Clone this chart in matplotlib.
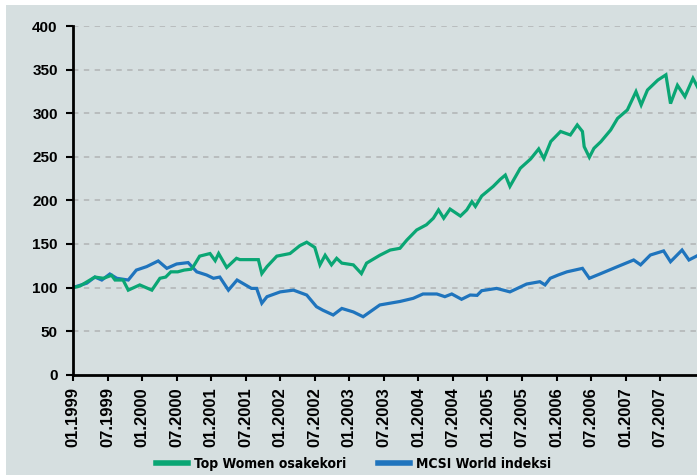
#!/usr/bin/env python3
"""Top Women osakekori vs MCSI World indeksi, 01.1999 - 12.2007."""

import matplotlib

matplotlib.use("Agg")
import matplotlib.pyplot as plt
from matplotlib.patches import Rectangle


# x = months since 01.1999
women_months = [
    0, 1.2, 3.8, 5.3, 6.7, 7.3, 8.7, 9.6, 11.6, 13.7, 15.1, 16.1,
    17, 18.2, 19.3, 20.5, 20.9, 22, 23.8, 24.7, 25.3, 26.7, 28.4, 29, 31, 32.2,
    32.8, 33.7, 35.4, 37.7, 39.4, 40.6, 42, 42.9, 43.8, 44.9,
    45.8, 46.7, 48.7, 50.1, 51, 53.3, 55.1, 56.8, 58, 59.7, 61.4, 62.6,
    63.5, 64.4, 65.5, 67.3, 68.4, 69.3, 69.9, 71, 73, 74.2, 75.1, 75.9, 77.7,
    79.5, 80.9, 81.8, 83, 84.7, 86.4, 87.6, 88.5, 88.8, 89.7, 90.5,
    91.7, 93.4, 94.6, 96.3, 97.8, 98.7, 99.8, 101.6, 103, 103.8, 105, 106.3,
    107.7, 108.6,
]
women_values = [
    100, 101.7, 112, 110.6, 114, 108.6, 108.6, 97, 103, 97, 110.6, 112,
    118, 118, 120, 121, 124, 136, 139, 130.8, 139, 123, 133.5, 132, 132, 132,
    116, 124, 136, 139, 148, 152, 146, 126, 137, 126,
    133.5, 128, 126, 116, 128, 137, 143, 145, 154.5, 166, 172, 179.5,
    189, 179.5, 190, 182, 189, 198.5, 193, 205, 216, 224, 229, 216, 236.8,
    247.5, 259, 248, 267.5, 279, 275, 286.5, 279, 261.6, 249.4, 259.7,
    267.3, 280.7, 294, 303.7, 324.7, 309.4, 326.6, 338, 344, 311, 332, 319,
    340, 328.6,
]

msci_months = [
    0, 2.4, 3.8, 5, 6.4, 7.6, 9.6, 11, 12.8, 14.8, 16.3, 18, 20,
    21.5, 23.2, 24.4, 25.5, 27, 28.5, 31, 31.9, 32.8, 33.7, 36,
    38.3, 40.6, 42.3, 43.4, 45.2, 46.7, 48.7, 50.4, 53.3, 56.8, 59.1,
    60.8, 63.2, 64.6, 65.8, 67.5, 69, 70.2, 71, 73.6, 75.9, 77.2, 78.8,
    81.1, 82, 82.9, 84.3, 85.8, 88.5, 89.7, 91.7, 94.6, 97.4, 98.6, 100.3,
    102.6, 103.8, 105.8, 107, 108.6,
]
msci_values = [
    100, 105, 112, 108.6, 115.5, 110.6, 108.6, 120, 124, 130.5, 122, 127, 128.6,
    118, 114.4, 110.6, 112, 97, 108.6, 99, 99, 82, 89.5, 95,
    97, 91.4, 78, 74, 68.5, 76, 72, 66.5, 80, 84, 87.6,
    92.6, 92.6, 89.5, 92.6, 86.5, 91.4, 91, 96.4, 99, 95, 99, 104,
    106.7, 103, 110.6, 114.4, 118, 122, 110.6, 116, 124, 131.6, 126, 137.3,
    142, 129.6, 143, 131.6, 137,
]

tick_months = list(range(0, 103, 6))
tick_labels = [f"{'01' if m % 12 == 0 else '07'}.{1999 + m // 12}" for m in tick_months]
y_ticks = [0, 50, 100, 150, 200, 250, 300, 350, 400]

GREEN = "#0aa674"
BLUE = "#1f74bd"
BG = "#d6dfe0"

fig = plt.figure(figsize=(6.97, 4.76), dpi=100)
fig.patches.append(
    Rectangle((6 / 697, 1 / 476), 691 / 697, 470 / 476, transform=fig.transFigure,
              facecolor=BG, edgecolor="none", zorder=-10)
)
ax = fig.add_axes([73 / 697, (476 - 374.7) / 476, 624 / 697, 348.7 / 476])
ax.set_facecolor("none")

ax.plot(msci_months, msci_values, color=BLUE, linewidth=2.3, solid_joinstyle="miter")
ax.plot(women_months, women_values, color=GREEN, linewidth=2.3, solid_joinstyle="miter")

ax.set_xlim(0, 108.4)
ax.set_ylim(0, 400)
ax.set_yticks(y_ticks)
ax.set_yticklabels([str(v) for v in y_ticks], fontsize=11, fontweight="bold",
                   family="Liberation Sans")
ax.set_xticks(tick_months)
ax.set_xticklabels(tick_labels, rotation=90, fontsize=12, fontweight="bold",
                   family="Liberation Sans", va="top")

for y in y_ticks[1:]:
    ax.axhline(y, color="#b6babb", linewidth=1.3, linestyle=(0, (3, 3)), zorder=0.5)

for side in ["top", "right"]:
    ax.spines[side].set_visible(False)
for side in ["left", "bottom"]:
    ax.spines[side].set_linewidth(2)
    ax.spines[side].set_color("black")
ax.tick_params(axis="y", length=5, width=1.5, pad=6, colors="black")
ax.tick_params(axis="x", length=4, width=1.5, pad=5, colors="black")

handles = ax.get_lines()
fig.legend(
    [handles[1], handles[0]],
    ["Top Women osakekori", "MCSI World indeksi"],
    loc="center",
    bbox_to_anchor=(353.5 / 697, 12 / 476),
    ncol=2,
    frameon=False,
    handlelength=2.3,
    handletextpad=0.45,
    columnspacing=2.3,
    prop={"family": "DejaVu Sans", "stretch": "condensed", "weight": "bold", "size": 10},
)
for line in fig.legends[0].get_lines():
    line.set_linewidth(4)

fig.savefig("out.png", dpi=100)
